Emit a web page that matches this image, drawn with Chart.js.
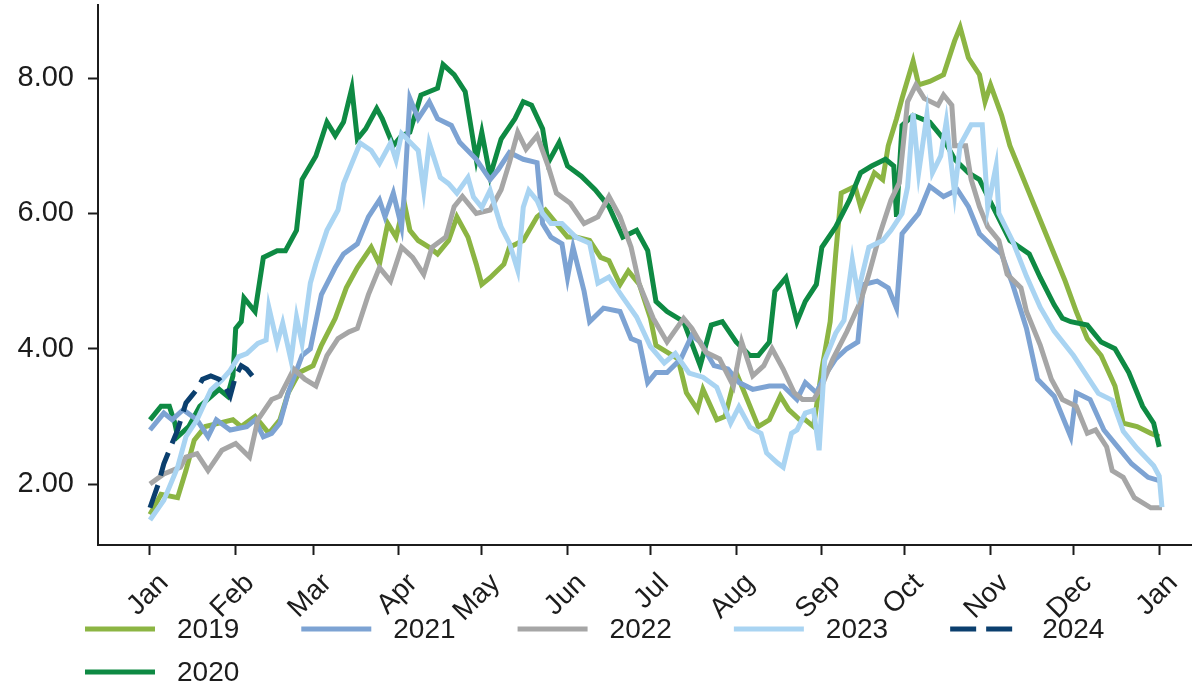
<!DOCTYPE html>
<html lang="en">
<head>
<meta charset="UTF-8">
<title>Seasonal profile by year</title>
<script src="https://cdn.jsdelivr.net/npm/chart.js"></script>
<style>
  html, body { margin: 0; padding: 0; background: #fff; }
  #wrap { width: 1193px; height: 688px; position: relative; }
</style>
</head>
<body>
<div id="wrap"><canvas id="chart"></canvas></div>
<script>
// x axis: day of year, ticks at the first of each month
const monthStarts = [0, 31, 59, 90, 120, 151, 181, 212, 243, 273, 304, 334, 365];
const monthLabels = ['Jan', 'Feb', 'Mar', 'Apr', 'May', 'Jun', 'Jul', 'Aug', 'Sep', 'Oct', 'Nov', 'Dec', 'Jan'];
const yTicks = [2, 4, 6, 8];

// values (day of year, value)
const days2019 = [0,4,10,13,16,20,25,30,33,38,43,47,50,54,59,62,67,71,75,80,83,86,89,92,94,97,101,104,108,111,115,118,120,123,128,130,135,140,143,147,151,154,159,163,166,170,173,177,181,183,187,191,194,198,200,205,208,212,216,220,224,228,231,235,237,240,243,246,248,250,255,257,262,265,267,270,272,276,278,282,287,291,293,296,300,302,304,308,311,314,318,322,327,331,335,339,344,349,352,357,362,365];
const vals2019 = [1.55,1.85,1.8,2.2,2.65,2.85,2.9,2.95,2.85,3.0,2.75,2.95,3.35,3.65,3.75,4.05,4.45,4.9,5.2,5.5,5.25,5.85,5.65,6.15,5.75,5.6,5.5,5.4,5.6,5.95,5.65,5.25,4.95,5.05,5.25,5.5,5.6,5.95,6.05,5.85,5.65,5.65,5.6,5.35,5.3,4.95,5.15,4.95,4.45,4.05,3.95,3.85,3.35,3.1,3.4,2.95,3.0,3.65,3.25,2.85,2.95,3.3,3.1,2.95,2.95,2.85,3.7,4.4,5.4,6.3,6.4,6.1,6.6,6.5,7.0,7.4,7.7,8.25,7.9,7.95,8.05,8.55,8.75,8.3,8.05,7.65,7.9,7.45,7.0,6.7,6.3,5.9,5.4,5.0,4.55,4.15,3.9,3.45,2.9,2.85,2.75,2.7];

const days2020 = [0,4,7,9,10,14,18,25,28,30,31,33,34,38,41,46,49,53,55,60,64,67,70,73,75,78,82,84,88,91,94,98,104,106,110,114,118,120,123,127,132,135,138,142,144,148,151,156,161,166,171,176,180,183,187,193,199,203,207,212,217,220,224,226,230,234,237,241,243,248,253,257,261,266,269,270,272,276,282,287,291,296,300,303,311,318,322,327,330,333,339,344,349,354,359,363,365];
const vals2020 = [2.95,3.15,3.15,2.9,2.7,2.85,3.15,3.4,3.3,3.6,4.3,4.4,4.75,4.55,5.35,5.45,5.45,5.75,6.5,6.85,7.35,7.15,7.35,7.85,7.1,7.25,7.55,7.4,7.0,7.15,7.2,7.75,7.85,8.2,8.05,7.8,6.8,7.2,6.55,7.1,7.4,7.65,7.6,7.25,6.75,7.05,6.7,6.55,6.35,6.1,5.65,5.75,5.45,4.7,4.55,4.4,3.75,4.35,4.4,4.1,3.9,3.9,4.1,4.85,5.05,4.4,4.7,4.95,5.5,5.8,6.2,6.6,6.7,6.8,6.7,5.95,7.3,7.45,7.35,7.1,6.8,6.6,6.5,6.25,5.6,5.4,5.05,4.65,4.45,4.4,4.35,4.1,4.0,3.65,3.15,2.9,2.55];

const days2021 = [0,5,8,12,17,21,24,29,35,38,41,44,47,50,55,58,62,67,70,75,79,83,85,88,91,92,94,97,101,104,109,112,118,123,126,130,135,140,142,145,149,151,153,157,159,164,170,174,177,180,183,187,192,196,199,204,209,213,218,224,229,234,237,241,244,248,252,256,258,263,267,270,272,276,278,282,287,292,296,300,305,308,312,317,321,327,333,335,340,345,350,355,361,365];
const vals2021 = [2.8,3.05,2.95,3.1,2.95,2.7,2.95,2.8,2.85,2.95,2.7,2.75,2.9,3.35,3.9,4.0,4.8,5.2,5.4,5.55,5.95,6.2,5.95,6.3,5.8,6.3,7.7,7.4,7.65,7.4,7.3,7.05,6.8,6.5,6.65,6.9,6.8,6.75,5.85,5.65,5.55,5.05,5.5,4.85,4.4,4.6,4.55,4.15,4.1,3.5,3.65,3.65,3.85,4.2,4.1,3.75,3.7,3.5,3.4,3.45,3.45,3.25,3.5,3.35,3.6,3.85,4.0,4.1,4.95,5.0,4.9,4.6,5.7,5.9,6.0,6.4,6.25,6.35,6.1,5.7,5.5,5.4,4.95,4.3,3.55,3.3,2.7,3.35,3.25,2.8,2.55,2.3,2.1,2.05];

const days2022 = [0,5,11,13,17,21,26,31,36,39,44,47,52,56,60,64,68,72,75,79,83,87,91,95,99,102,107,110,113,118,123,127,130,133,136,140,144,147,152,157,162,166,170,174,177,182,187,193,196,201,206,211,214,218,222,225,229,233,236,240,243,247,252,257,260,264,268,271,274,277,280,285,287,290,291,295,297,300,303,307,310,315,317,322,326,330,335,339,342,346,348,352,356,362,366];
const vals2022 = [2.0,2.15,2.25,2.4,2.45,2.2,2.5,2.6,2.4,2.95,3.25,3.3,3.7,3.55,3.45,3.9,4.15,4.25,4.3,4.8,5.2,5.0,5.5,5.35,5.1,5.5,5.65,6.1,6.25,6.0,6.05,6.35,6.75,7.2,6.95,7.15,6.7,6.3,6.15,5.85,5.95,6.25,5.95,5.5,4.95,4.45,4.1,4.45,4.3,3.95,3.85,3.45,4.1,3.6,3.75,4.0,3.7,3.35,3.25,3.25,3.45,3.85,4.25,4.7,5.1,5.7,6.2,6.45,7.65,7.9,7.7,7.6,7.75,7.6,7.0,7.0,6.5,6.1,5.8,5.6,5.1,4.9,4.55,4.05,3.55,3.25,3.15,2.75,2.8,2.55,2.2,2.1,1.8,1.65,1.65];

const days2023 = [0,5,10,13,17,22,26,29,32,35,39,42,43,46,48,51,53,55,58,60,64,68,70,72,76,80,83,87,89,91,97,99,101,105,108,111,115,117,120,123,127,130,133,135,137,140,142,145,149,154,159,162,166,171,176,181,186,190,195,200,205,210,213,217,221,223,227,229,232,234,237,240,242,244,248,251,254,256,260,265,268,272,274,276,278,281,283,286,288,291,293,297,301,303,306,307,312,317,322,327,334,338,343,348,352,357,363,365,366];
const vals2023 = [1.47,1.76,2.25,2.7,2.95,3.39,3.54,3.68,3.88,3.93,4.08,4.13,4.61,4.08,4.38,3.83,4.47,4.08,4.97,5.26,5.75,6.05,6.44,6.64,7.04,6.93,6.74,7.04,6.79,7.18,6.93,6.34,7.04,6.53,6.44,6.3,6.53,6.24,6.09,6.34,5.8,5.56,5.16,6.09,6.34,6.19,6.0,5.85,5.85,5.65,5.56,4.97,5.06,4.76,4.47,4.03,3.79,3.93,3.64,3.58,3.43,2.9,3.14,2.84,2.75,2.46,2.31,2.25,2.75,2.8,3.05,3.09,2.5,3.83,4.23,4.42,5.31,4.82,5.5,5.6,5.75,6.0,6.39,7.48,6.6,7.46,6.6,6.85,7.36,6.3,7.01,7.31,7.31,6.09,6.7,6.0,5.59,5.07,4.61,4.26,3.9,3.65,3.34,3.24,2.78,2.53,2.27,2.12,1.66];

const days2024 = [0,3,5,7,10,13,15,17,19,22,25,27,29,31,33,35,37];
const vals2024 = [1.65,2.0,2.3,2.5,2.8,3.2,3.3,3.4,3.55,3.6,3.55,3.45,3.3,3.6,3.75,3.7,3.6];

const years = ['2019', '2020', '2021', '2022', '2023', '2024'];
const colors = ['#8cb543', '#0e8a43', '#7da3d3', '#a6a6a6', '#a9d4f2', '#0b3f6e'];
const dayLists = [days2019, days2020, days2021, days2022, days2023, days2024];
const valLists = [vals2019, vals2020, vals2021, vals2022, vals2023, vals2024];

const FONT = "'Liberation Sans', Arial, Helvetica, sans-serif";
const INK = '#1c1c1c';

const datasets = years.map((yr, i) => ({
    label: yr,
    data: dayLists[i].map((d, j) => ({ x: d, y: valLists[i][j] })),
    borderColor: colors[i],
    backgroundColor: colors[i],
    borderWidth: 5,
    borderDash: yr === '2024' ? [24, 10] : [],
    pointRadius: 0,
    tension: 0,
    order: years.length - i
}));

// matplotlib-like legend in five columns, drawn over the bottom of the figure
const legendPlugin = {
    id: 'figLegend',
    afterDraw(chart) {
        const ctx = chart.ctx;
        const cols = [[0, 1], [2], [3], [4], [5]];
        const rowY = [629, 672];
        ctx.save();
        ctx.font = '28px ' + FONT;
        ctx.textBaseline = 'middle';
        ctx.textAlign = 'left';
        let x = 85;
        cols.forEach(col => {
            let widest = 0;
            col.forEach((idx, r) => {
                const ds = chart.data.datasets[idx];
                const y = rowY[r];
                ctx.strokeStyle = ds.borderColor;
                ctx.lineWidth = 5;
                ctx.setLineDash(ds.borderDash.length ? [26, 10] : []);
                ctx.beginPath();
                ctx.moveTo(x, y);
                ctx.lineTo(x + 70, y);
                ctx.stroke();
                ctx.setLineDash([]);
                ctx.fillStyle = INK;
                ctx.fillText(ds.label, x + 92, y + 1);
                widest = Math.max(widest, ctx.measureText(ds.label).width);
            });
            x += 92 + widest + 62;
        });
        ctx.restore();
    }
};

new Chart(document.getElementById('chart'), {
    type: 'line',
    data: { datasets: datasets },
    options: {
        responsive: true,
        maintainAspectRatio: false,
        animation: false,
        devicePixelRatio: 1,
        layout: { padding: { top: 5, right: 2, left: 0, bottom: 0 } },
        plugins: { legend: { display: false }, tooltip: { enabled: false } },
        scales: {
            x: {
                type: 'linear',
                min: -18.8,
                max: 376.5,
                afterBuildTicks: s => { s.ticks = monthStarts.map(v => ({ value: v })); },
                afterFit: s => { s.height = 143; s.paddingLeft = 0; s.paddingRight = 0; },
                ticks: {
                    autoSkip: false,
                    minRotation: 45,
                    maxRotation: 45,
                    padding: 12,
                    labelOffset: 14,
                    color: INK,
                    font: { family: FONT, size: 28 },
                    callback: v => monthLabels[monthStarts.indexOf(v)]
                },
                grid: { drawOnChartArea: false, tickLength: 10, tickWidth: 2, tickColor: INK },
                border: { color: INK, width: 2 }
            },
            y: {
                min: 1.1,
                max: 9.08,
                afterBuildTicks: s => { s.ticks = yTicks.map(v => ({ value: v })); },
                afterFit: s => { s.width = 98; s.paddingTop = 0; s.paddingBottom = 0; },
                ticks: {
                    padding: 14,
                    color: INK,
                    font: { family: FONT, size: 29 },
                    callback: v => v.toFixed(2)
                },
                grid: { drawOnChartArea: false, tickLength: 10, tickWidth: 2, tickColor: INK },
                border: { color: INK, width: 2 }
            }
        }
    },
    plugins: [legendPlugin]
});
</script>
</body>
</html>
